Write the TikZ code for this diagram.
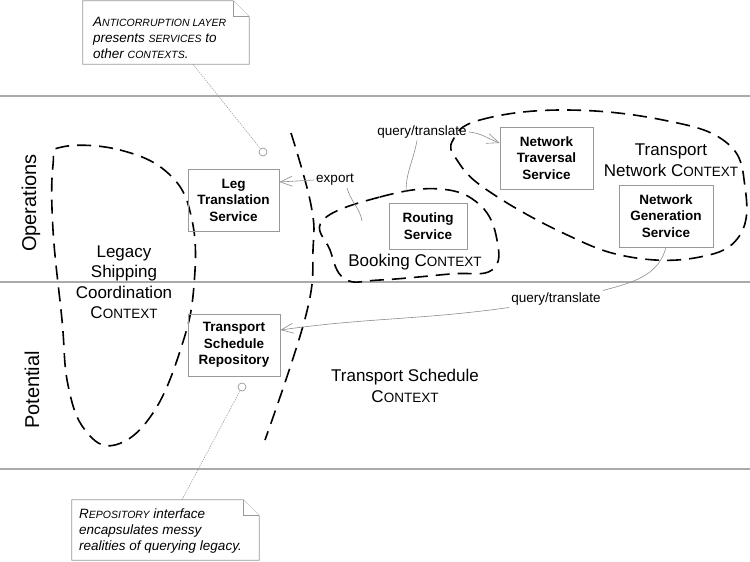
\documentclass[tikz,border=0pt]{standalone}
\usepackage{fontspec}
\setmainfont{Liberation Sans}
\usetikzlibrary{arrows.meta}
\definecolor{lanegray}{HTML}{AAAAAA}
\definecolor{boxgray}{HTML}{999999}
\definecolor{linkgray}{HTML}{8C8C8C}
\newcommand\notesc[1]{{\fontsize{10.5}{12}\selectfont #1}}
\newcommand\ctxsc[1]{{\fontsize{13.5}{14}\selectfont #1}}

\begin{document}
\begin{tikzpicture}[x=1pt,y=1pt,
    lane/.style={lanegray,line width=1.2pt},
    svc/.style={draw=boxgray,line width=0.9pt,align=center,inner sep=0pt,font=\fontsize{13.5}{16.5}\selectfont\bfseries},
    ctx/.style={align=center,font=\fontsize{17}{20.5}\selectfont},
    side/.style={rotate=90,font=\fontsize{20}{20}\selectfont},
    tag/.style={inner sep=2pt,font=\fontsize{13.5}{16}\selectfont},
    link/.style={linkgray,line width=0.6pt},
    arr/.style={-{Straight Barb[length=12pt,width=10pt]}},
    bound/.style={line width=1.6pt,dash pattern=on 14pt off 8pt},
    notebox/.style={draw=boxgray,fill=white,line width=0.8pt},
    notetext/.style={anchor=west,align=left,inner sep=0pt,font=\fontsize{13.5}{16}\selectfont\itshape},
    pin/.style={circle,draw=boxgray,fill=white,minimum size=8pt,inner sep=0pt,line width=0.7pt},
    pinline/.style={boxgray,line width=0.5pt,dash pattern=on 1.5pt off 1pt}]
                \useasboundingbox (0,0) rectangle (750,562);

                % swim lanes
                \foreach \y in {466,280,93}
                    \draw[lane] (0,\y) -- (750,\y);
                \node[side] (ops) at (31,359) {Operations};
                \node[side] (pot) at (32,172) {Potential};

                % context boundaries
                \draw[bound] plot[smooth cycle,tension=0.7] coordinates {(62,415) (120,412) (170,387) (192,342) (194,277) (182,217) (153,149) (115,117) (85,132) (68,177) (62,242) (53,332) (53,397)};
                \draw[bound] plot[smooth,tension=0.7] coordinates {(291,429) (311,357) (313,312) (306,247) (265,122)};
                \draw[bound] plot[smooth cycle,tension=0.7] coordinates {(323,342) (380,365) (440,373) (480,357) (497,322) (492,292) (450,288) (380,282) (345,283) (330,312)};
                \draw[bound] plot[smooth cycle,tension=0.7] coordinates {(453,422) (480,442) (563,452) (663,442) (727,419) (745,375) (740,327) (700,305) (630,305) (563,329) (487,372) (457,402)};

                \node[ctx] (legacy) at (124,280) {Legacy\\Shipping\\Coordination\\C\ctxsc{ONTEXT}};
                \node[ctx] (schedule) at (405,176) {Transport Schedule\\C\ctxsc{ONTEXT}};
                \node[ctx] (booking) at (415,300) {Booking C\ctxsc{ONTEXT}};
                \node[ctx] (network) at (671,402) {Transport\\Network C\ctxsc{ONTEXT}};

                % services
                \node[svc,minimum width=91pt,minimum height=62pt] (leg) at (233.5,362) {Leg\\Translation\\Service};
                \node[svc,minimum width=92pt,minimum height=62pt] (repo) at (234,217) {Transport\\Schedule\\Repository};
                \node[svc,minimum width=78pt,minimum height=46pt] (routing) at (428,336) {Routing\\Service};
                \node[svc,minimum width=93pt,minimum height=62pt] (trav) at (546.5,404) {Network\\Traversal\\Service};
                \node[svc,minimum width=94pt,minimum height=62pt] (gen) at (666,346) {Network\\Generation\\Service};

                % translations
                \node[tag] (export) at (335,382) {export};
                \node[tag] (qt1) at (422,430) {query/translate};
                \node[tag] (qt2) at (556,263) {query/translate};
                \coordinate (bookexp) at (362,341);
                \coordinate (bookqt) at (406,370);

                \draw[link] (bookexp) to[out=100,in=-75] ([xshift=12pt]export.south);
                \draw[link,arr] (export.west) -- ([yshift=18pt]leg.east);
                \draw[link] (bookqt) to[out=90,in=-100] ([xshift=-5pt]qt1.south);
                \draw[link,arr] (qt1.east) to[out=-5,in=160] ([yshift=15pt]trav.west);
                \draw[link] (gen.south) to[out=-105,in=15] (qt2.north east);
                \draw[link,arr] (qt2.south west) to[out=188,in=8] ([yshift=15pt]repo.east);

                % notes
                \node[minimum width=166pt,minimum height=63pt,inner sep=0pt] (antinote) at (166,529.5) {};
                \node[minimum width=187pt,minimum height=60pt,inner sep=0pt] (reponote) at (165.5,32) {};
                \foreach \n in {antinote,reponote}{
                    \draw[notebox] (\n.north west) -- ([xshift=-16pt]\n.north east) -- ([yshift=-16pt]\n.north east) -- (\n.south east) -- (\n.south west) -- cycle;
                    \draw[notebox] ([xshift=-16pt]\n.north east) |- ([yshift=-16pt]\n.north east);
                }
                \node[notetext] (antitext) at (93,524) {A\notesc{NTICORRUPTION LAYER}\\presents \notesc{SERVICES} to\\other \notesc{CONTEXTS}.};
                \node[notetext] (repotext) at (79,31) {R\notesc{EPOSITORY} interface\\encapsulates messy\\realities of querying legacy.};

                \node[pin] (legpin) at (263,410) {};
                \node[pin] (repopin) at (242,175) {};
                \draw[pinline] ([xshift=27pt]antinote.south) -- (legpin);
                \draw[pinline] ([xshift=16.5pt]reponote.north) -- (repopin);
            \end{tikzpicture}
\end{document}
